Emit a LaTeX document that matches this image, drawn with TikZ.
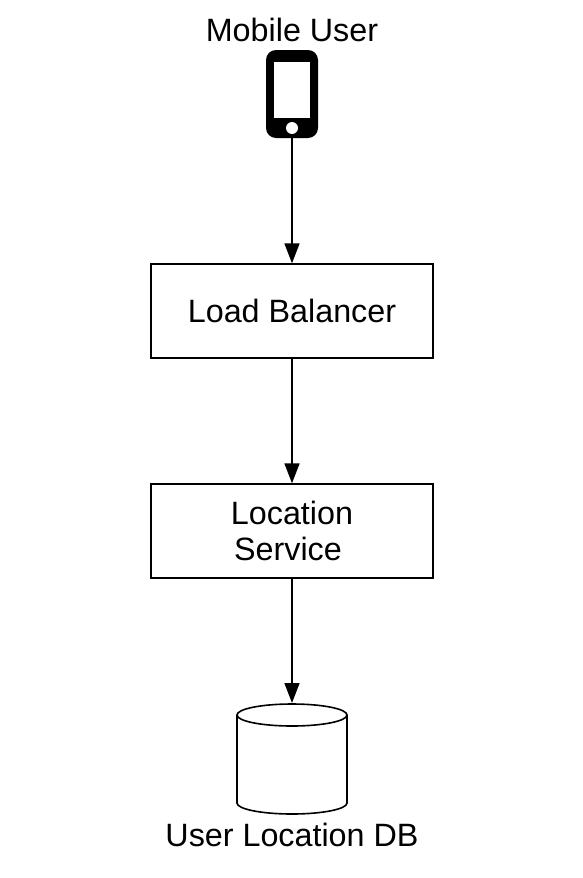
\documentclass[tikz,border=0pt]{standalone}
\usepackage{fontspec}
\setmainfont{Liberation Sans}
\usetikzlibrary{arrows.meta}
\begin{document}
\begin{tikzpicture}[x=1pt,y=-1pt,
  box/.style={draw=black,line width=1.4pt,fill=white,minimum width=282pt,minimum height=94pt,inner sep=0pt,align=center,font=\fontsize{32.3}{36}\selectfont},
  lbl/.style={inner sep=0pt,font=\fontsize{32.3}{36}\selectfont},
  conn/.style={draw=black,line width=1.6pt,-{Stealth[length=20pt,width=15pt,inset=0pt]}}]
\useasboundingbox (0,0) rectangle (582,878);
\node[lbl] (mobile) at (292,30) {Mobile User};
\node[box] (lb) at (292,311) {\raisebox{-1pt}{Load Balancer}};
\node[box] (ls) at (292,531) {Location\\[0pt]Service\hspace*{8pt}};
\node[lbl] (dblabel) at (292,835) {User Location DB};
\fill[black,rounded corners=10pt] (266,50) rectangle (318,138);
\fill[white] (274,62) rectangle (310,118);
\fill[white] (292,128) circle (6pt);
\coordinate (phone) at (292,138);
\draw[line width=1.6pt,fill=white] (237,715) -- (237,803) arc[start angle=180,end angle=360,x radius=55,y radius=-11] -- (347,715) arc[start angle=0,end angle=360,x radius=55,y radius=-11];
\coordinate (dbtop) at (292,703);
\draw[conn] (phone) -- (lb.north);
\draw[conn] (lb.south) -- (ls.north);
\draw[conn] (ls.south) -- (dbtop);
\end{tikzpicture}
\end{document}
